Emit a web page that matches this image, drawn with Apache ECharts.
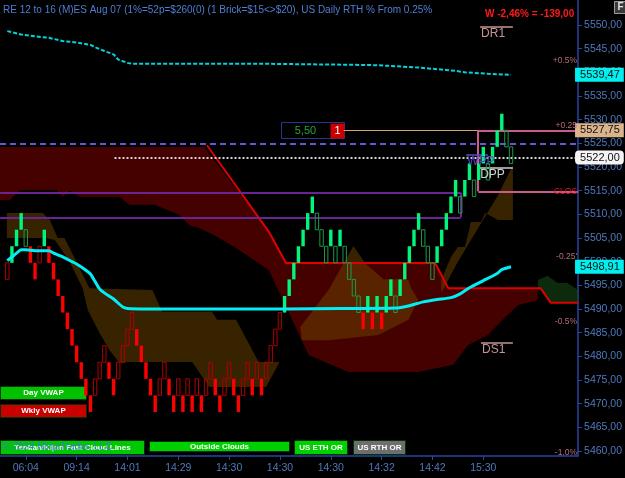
<!DOCTYPE html>
<html>
<head>
<meta charset="utf-8">
<script src="https://cdn.jsdelivr.net/npm/echarts@6.0.0/dist/echarts.min.js"></script>
<style>
html, body { margin: 0; padding: 0; background: #000; }
#main { width: 625px; height: 478px; }
</style>
</head>
<body>
<div id="main"></div>
<script>
// renko bricks: bottom level counted in bricks above brickBase
// G = filled green, g = hollow green, R = filled red, r = hollow red
var brickBase = 5468.25;
var brickSize = 3.5;
var brickLevel = [8,9,10,11,10,9,8,9,10,9, 8,7,6,5,4,3,2,1,0,1,
                  2,3,2,1,2,3,4,5,4,3, 2,1,0,1,2,1,0,1,0,1,
                  0,1,0,1,2,1,0,1,2,1, 0,1,2,1,2,1,2,3,4,5,
                  6,7,8,9,10,11,12,11,10,9, 10,9,10,9,8,7,6,5,6,5,
                  6,5,6,7,6,7,8,9,10,11, 10,9,8,9,10,11,12,13,12,13,
                  14,13,14,15,14,15,16,17,16,15];
var brickKind = 'rGGGgRRrGR' + 'RRRRRRRRRr' + 'rrRRrrrrRR' + 'RRRrrRRrRr' + 'RrRrrRRrrR' +
                'RrrRrRrrrr' + 'GGGGGGGggg' + 'GgGggggRGR' + 'GRGGgGGGGG' + 'gggGGGGGgG' + 'GgGGgGGGgg';

// time axis
var tickIdx = [4, 15, 26, 37, 48, 59, 70, 81, 92, 103];
var tickLabels = ['06:04', '09:14', '14:01', '14:29', '14:30', '14:30', '14:30', '14:32', '14:42', '15:30'];
var priceTicks = [5460, 5465, 5470, 5475, 5480, 5485, 5490, 5495, 5500, 5505, 5510, 5515, 5520, 5525, 5530, 5535, 5540, 5545, 5550];

// day vwap (solid cyan) and weekly band (dashed cyan)
var dayIdx = [0, 1, 2, 3, 4, 6, 9, 10, 12, 14, 15, 17, 18, 19, 20, 21, 23, 25, 26, 30, 60, 72, 84, 87, 90, 93, 96, 98, 100, 103, 106, 107, 109];
var dayVal = [5500.2, 5501.0, 5501.8, 5502.5, 5502.5, 5502.3, 5502.3, 5501.8, 5501.0, 5500.0, 5499.5, 5498.2, 5497.4, 5495.8, 5494.2, 5493.4, 5492.1, 5490.4, 5490.1, 5490.0, 5490.0, 5490.1, 5490.2, 5490.7, 5491.5, 5492.0, 5492.4, 5493.2, 5494.5, 5496.0, 5497.5, 5498.3, 5498.91];
var wkIdx = [0, 3, 6, 9, 12, 15, 18, 19, 21, 23, 24, 26, 27, 56, 74, 80, 84, 89, 95, 97, 99, 104, 107, 109];
var wkVal = [5548.7, 5548.0, 5547.6, 5547.3, 5546.6, 5546.3, 5545.8, 5545.3, 5544.5, 5543.8, 5542.7, 5542.0, 5541.8, 5541.8, 5541.6, 5541.5, 5541.3, 5541.0, 5540.5, 5540.3, 5540.0, 5539.7, 5539.55, 5539.47];

// kijun line (red)
var kijunIdx = [43.2, 56.6, 60.3, 92.6, 95.4, 115.4, 117.6, 123.5];
var kijunVal = [5524.6, 5506.3, 5499.7, 5499.7, 5494.4, 5494.4, 5491.3, 5491.3];

// clouds as outline vertices [index, price]
var kijunCloud = [[-1.6,5524.2],[42.6,5524.2],[56.6,5506.3],[60.3,5499.7],[92.6,5499.7],[95.4,5494.4],[114.8,5494.4],
  [114.8,5491.9],[110.5,5490.8],[107.2,5487.7],[104,5484.5],[99.7,5482.4],[96.5,5478.2],[88.9,5476.7],[73.8,5476.7],
  [65.2,5480.3],[63.7,5483.4],[56.6,5498.2],[50.1,5502.5],[44.8,5505.6],[41.5,5507.1],[39.4,5507.7],[37.2,5509.9],
  [31.8,5512.0],[26.4,5512.0],[24.3,5513.7],[15.7,5513.7],[13.5,5515.1],[12,5513.7],[10.7,5515.1],[2.7,5515.1],[0.6,5513.0],[-1.6,5513.0]];
var outerCloudA = [[-0.1,5510.3],[7.7,5510.3],[9.2,5508.8],[10.9,5505.0],[12.4,5505.0],[17.8,5494.4],[31.4,5494.0],[33.5,5489.4],
  [44.3,5489.4],[45.4,5487.7],[49.5,5487.7],[54.4,5478.8],[58.8,5478.8],[58.8,5478.6],[56.0,5473.5],[43.7,5473.5],[40.0,5478.8],
  [26.4,5478.8],[24.3,5478.6],[22.1,5481.3],[20.0,5484.9],[17.4,5489.8],[16.3,5494.4],[13.5,5500.0],[10.3,5504.6],[8.1,5505.0],[-0.1,5505.0]];
var outerCloudB = [[63.4,5486.2],[69.5,5494.0],[74.9,5503.3],[77.4,5499.7],[81.4,5496.3],[85.3,5496.3],[86.8,5496.1],[87.4,5494.4],
  [88.9,5491.9],[86.8,5487.7],[80.3,5484.5],[69.5,5483.4],[63.7,5483.4]];
var outerCloudC = [[93.9,5493.4],[97.5,5500.0],[101.9,5507.1],[106.2,5514.1],[109.4,5520.4],[109.4,5508.8],[106.2,5508.8],
  [103.4,5510.3],[102.5,5508.4],[100.3,5508.4],[99.05,5503.1],[97.5,5503.1],[96.0,5501.0],[93.9,5496.1]];
var greenCloud = [[114.8,5496.1],[116.9,5497.0],[119.1,5495.5],[121.2,5495.5],[123.5,5494.0],[123.5,5491.3],[117.6,5491.3],[115.4,5494.4],[114.8,5494.4]];

// price levels
var closeRef = 5514.85;
var pctSteps = [0.5, 0.25, 0, -0.25, -0.5, -1.0];
var pctText = ['+0.5%', '+0.25', 'CLOS', "-0.25'", '-0.5%', '-1.0%'];
var pivotName = ['DR1', 'WPP', 'DPP', 'DS1'];
var pivotVal = [5549.7, 5522.5, 5519.9, 5482.8];
var pivotFrom = [102.3, 99.3, 102.1, 102.5];
var pivotTo = [109.4, 104.0, 109.4, 109.4];
var pivotColor = ['#c49494', '#5a4ac8', '#d0d0d0', '#c49494'];
var dayRange = [5514.57, 5509.37];
var orBox = [5527.75, 5514.85];

var chart = echarts.init(document.getElementById('main'));

function polySeries(pts, fill, z) {
    return {
        type: 'custom', coordinateSystem: 'cartesian2d', clip: true, silent: true, z: z,
        data: [[pts[0][0], pts[0][1]]],
        renderItem: function (params, api) {
            return {
                type: 'polygon',
                shape: { points: pts.map(function (p) { return api.coord(p); }) },
                style: { fill: fill }
            };
        }
    };
}

function pairs(idx, val) {
    return idx.map(function (x, i) { return [x, val[i]]; });
}

var hidden = { color: 'rgba(0,0,0,0)', width: 0, type: 'solid' };

function tag(value, text, bg, radius) {
    return {
        yAxis: value,
        lineStyle: hidden,
        label: {
            show: true, position: 'end', distance: -3, formatter: text,
            backgroundColor: bg, color: '#111', fontSize: 11, padding: [2, 4, 1, 5],
            borderRadius: radius || 0
        }
    };
}

function seg(x1, y1, x2, y2, color, width) {
    return [{ coord: [x1, y1], lineStyle: { color: color, width: width, type: 'solid' }, label: { show: false } },
            { coord: [x2, y2] }];
}

var leftX = -1.55, rightX = 123.5;
var levelLines = [
    { yAxis: 5525, lineStyle: { color: '#6656d6', type: [6, 4], width: 2 }, label: { show: false } },
    [{ coord: [23.2, 5522], lineStyle: { color: '#d4d4d4', type: [2, 2], width: 2 },
       label: { show: true, position: 'end', distance: -3, formatter: '5522,00', backgroundColor: '#f4f4f4',
                color: '#111', fontSize: 11, padding: [2, 4, 1, 5], borderRadius: 4 } },
     { coord: [rightX, 5522] }],
    [{ coord: [72.8, 5527.75], lineStyle: { color: '#d2a47e', width: 1, type: 'solid' },
       label: { show: true, position: 'end', distance: -3, formatter: '5527,75', backgroundColor: '#dcb48c',
                color: '#111', fontSize: 11, padding: [2, 4, 1, 5] } },
     { coord: [rightX, 5527.75] }],
    // day range box (purple)
    seg(leftX, dayRange[0], 98.1, dayRange[0], '#6a2496', 2),
    seg(leftX, dayRange[1], 98.1, dayRange[1], '#6a2496', 2),
    seg(98.1, dayRange[0], 98.1, dayRange[1], '#6a2496', 2),
    // opening range box (pink)
    seg(101.9, orBox[0], rightX, orBox[0], '#cc5a8c', 2),
    seg(101.9, orBox[1], rightX, orBox[1], '#cc5a8c', 2),
    seg(101.9, orBox[0], 101.9, orBox[1], '#cc5a8c', 2),
    tag(5539.47, '5539,47', '#00f0f0'),
    tag(5498.91, '5498,91', '#00f0f0')
];
pctSteps.forEach(function (p, i) {
    levelLines.push({
        yAxis: closeRef * (1 + p / 100),
        lineStyle: hidden,
        label: { show: true, position: 'insideEnd', distance: 1, formatter: pctText[i],
                 color: p === 0 ? '#e01818' : '#b86a78', fontSize: 8.5 }
    });
});
pivotName.forEach(function (n, i) {
    levelLines.push([
        { coord: [pivotFrom[i], pivotVal[i]], lineStyle: { color: pivotColor[i], width: 1.5, type: 'solid' },
          label: { show: true, position: 'insideStartBottom', distance: 1, formatter: n,
                   color: pivotColor[i], fontSize: 12, padding: 0 } },
        { coord: [pivotTo[i], pivotVal[i]] }
    ]);
});

var btnFont = 'bold 8px Liberation Sans';
function button(x, y, w, h, fill, text) {
    return {
        type: 'group', left: x, top: y, silent: true,
        children: [
            { type: 'rect', shape: { x: 0, y: 0, width: w, height: h }, style: { fill: fill, stroke: '#003300', lineWidth: 1 } },
            { type: 'text', x: w / 2, y: h / 2, style: { text: text, fill: '#fff', font: btnFont, align: 'center', verticalAlign: 'middle' } }
        ]
    };
}

chart.setOption({
    backgroundColor: '#000',
    animation: false,
    textStyle: { fontFamily: 'Liberation Sans' },
    grid: { left: 0, right: 44.5, top: 0, bottom: 22 },
    xAxis: {
        type: 'value', min: -1.58, max: 123.5,
        axisLine: { onZero: false, lineStyle: { color: '#2846a0', width: 1.5 } },
        axisTick: { customValues: tickIdx, length: 4, lineStyle: { color: '#2846a0' } },
        axisLabel: {
            customValues: tickIdx, color: '#5078be', fontSize: 10.5, margin: 7,
            formatter: function (v) { return tickLabels[tickIdx.indexOf(v)]; }
        },
        splitLine: { show: false }
    },
    yAxis: {
        type: 'value', position: 'right', min: 5458.94, max: 5555.28,
        axisLine: { show: true, onZero: false, lineStyle: { color: '#2846a0', width: 1.5 } },
        axisTick: { show: true, customValues: priceTicks, length: 4, lineStyle: { color: '#2846a0' } },
        axisLabel: {
            customValues: priceTicks, color: '#5078be', fontSize: 10.5, margin: 6,
            formatter: function (v) { return v.toFixed(2).replace('.', ','); }
        },
        splitLine: { show: false }
    },
    series: [
        polySeries(kijunCloud, 'rgba(125,0,0,0.55)', 1),
        polySeries(outerCloudA, 'rgba(110,70,0,0.5)', 2),
        polySeries(outerCloudB, 'rgba(110,70,0,0.5)', 2),
        polySeries(outerCloudC, 'rgba(110,70,0,0.5)', 2),
        polySeries(greenCloud, 'rgba(20,70,20,0.6)', 2),
        {
            type: 'line', z: 3, silent: true, symbol: 'none',
            data: pairs(kijunIdx, kijunVal),
            lineStyle: { color: '#e00000', width: 2 }
        },
        {
            type: 'line', z: 4, silent: true, symbol: 'none', data: [],
            markLine: { silent: true, symbol: ['none', 'none'], animation: false, precision: 2, data: levelLines }
        },
        {
            type: 'custom', z: 5, silent: true,
            data: brickLevel.map(function (n, i) {
                return [i, brickBase + n * brickSize, brickBase + (n + 1) * brickSize];
            }),
            renderItem: function (params, api) {
                var x = api.value(0);
                var top = api.coord([x, api.value(2)]);
                var bot = api.coord([x, api.value(1)]);
                var k = brickKind.charAt(params.dataIndex);
                var w = 3.4, style;
                if (k === 'G') style = { fill: '#00f57a' };
                else if (k === 'R') style = { fill: '#ff0000' };
                else if (k === 'g') style = { fill: 'rgba(0,0,0,0)', stroke: '#1c9a4a', lineWidth: 1 };
                else style = { fill: 'rgba(0,0,0,0)', stroke: '#b00000', lineWidth: 1 };
                return { type: 'rect', shape: { x: top[0] - w / 2, y: top[1], width: w, height: bot[1] - top[1] }, style: style };
            }
        },
        {
            type: 'line', z: 6, silent: true, symbol: 'none',
            data: pairs(wkIdx, wkVal),
            lineStyle: { color: '#00d4dc', width: 2, type: [4, 2] }
        },
        {
            type: 'line', z: 7, silent: true, symbol: 'none', smooth: 0.2,
            data: pairs(dayIdx, dayVal),
            lineStyle: { color: '#00eef4', width: 3 }
        }
    ],
    graphic: [
        { type: 'text', left: 3, top: 5, silent: true,
          style: { text: 'RE 12 to 16 (M)ES Aug 07 (1%=52p=$260(0) (1 Brick=$15<>$20), US Daily RTH % From 0.25%',
                   fill: '#4f7fd4', font: '10px Liberation Sans' } },
        { type: 'text', left: 485, top: 9, silent: true,
          style: { text: 'W -2,46% = -139,00', fill: '#ff1a1a', font: 'bold 10px Liberation Sans' } },
        { type: 'group', left: 614, top: 1, silent: true, children: [
            { type: 'rect', shape: { x: 0, y: 0, width: 12, height: 12 }, style: { fill: '#3a3a3a', stroke: '#9a9a9a' } },
            { type: 'text', x: 6, y: 6, style: { text: 'F', fill: '#e0e0e0', font: 'bold 10px Liberation Sans', align: 'center', verticalAlign: 'middle' } }
        ] },
        { type: 'group', left: 281, top: 122, silent: true, children: [
            { type: 'rect', shape: { x: 0, y: 0, width: 63, height: 16 }, style: { fill: '#000', stroke: '#24378a', lineWidth: 1 } },
            { type: 'text', x: 24, y: 8, style: { text: '5,50', fill: '#22a83a', font: '11px Liberation Sans', align: 'center', verticalAlign: 'middle' } },
            { type: 'rect', shape: { x: 49, y: 1, width: 14, height: 15 }, style: { fill: '#c80000' } },
            { type: 'text', x: 56, y: 8.5, style: { text: '1', fill: '#fff', font: '11px Liberation Sans', align: 'center', verticalAlign: 'middle' } }
        ] },
        button(0, 386, 86, 13, '#00c000', 'Day VWAP'),
        button(0, 404, 86, 13, '#c80000', 'Wkly VWAP'),
        button(0, 440, 144, 14, '#00c800', 'Tenkan/Kijun Fast Cloud Lines'),
        button(149, 441, 140, 10, '#00d000', 'Outside Clouds'),
        button(294, 440, 53, 14, '#00d000', 'US ETH OR'),
        button(353, 440, 52, 14, '#6e6e6e', 'US RTH OR'),
        { type: 'text', left: 2, top: 442, silent: true,
          style: { text: '\u00a9 2024 NinjaTrader, LLC', fill: 'rgba(70,110,230,0.85)', font: '10px Liberation Sans' } }
    ]
});
</script>
</body>
</html>
